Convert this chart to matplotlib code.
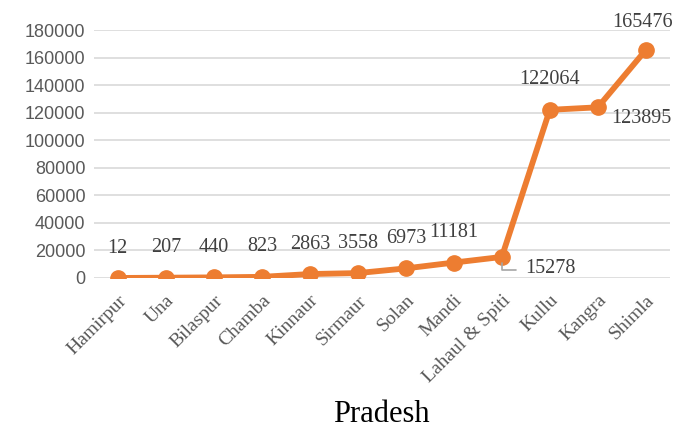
import matplotlib.pyplot as plt

# Data
districts = ["Hamirpur", "Una", "Bilaspur", "Chamba", "Kinnaur", "Sirmaur", "Solan",
             "Mandi", "Lahaul & Spiti", "Kullu", "Kangra", "Shimla"]
values = [12, 207, 440, 823, 2863, 3558, 6973, 11181, 15278, 122064, 123895, 165476]
y_ticks = list(range(0, 180001, 20000))

orange = "#ED7D31"
grey_txt = "#595959"

fig = plt.figure(figsize=(6.8, 4.32), dpi=100)
ax = fig.add_axes([0.138, 0.3565, 0.847, 0.574])

x = list(range(len(districts)))
ax.plot(x, values, color=orange, linewidth=4.2, marker="o", markersize=11,
        solid_capstyle="round", zorder=3)

ax.set_xlim(-0.5, len(districts) - 0.5)
ax.set_ylim(0, 180000)
ax.set_yticks(y_ticks)
ax.set_yticklabels([str(v) for v in y_ticks], family="Liberation Sans",
                   fontsize=13, color=grey_txt)
ax.set_xticks(x)
ax.set_xticklabels(districts, rotation=45, ha="right", rotation_mode="anchor",
                   family="Liberation Serif", fontsize=14, color=grey_txt)
ax.tick_params(axis="both", length=0, pad=6)
ax.tick_params(axis="x", pad=10)
ax.grid(axis="y", color="#D9D9D9", linewidth=1.2)
ax.set_axisbelow(True)
for s in ax.spines.values():
    s.set_visible(False)

ax.set_xlabel("Pradesh", family="Liberation Serif", fontsize=22, color="black",
              labelpad=10)

# Data labels
lbl = dict(textcoords="offset points", ha="center", va="center",
           family="Liberation Serif", fontsize=14.5, color="#404040")
for i, v in enumerate(values):
    name = districts[i]
    if name == "Lahaul & Spiti":
        ax.annotate(str(v), (i, v), xytext=(35, -8), **lbl)
        # leader line
        ax.annotate("", (i, v), xytext=(10, -9.5), textcoords="offset points",
                    arrowprops=dict(arrowstyle="-", color="#A6A6A6", lw=1.2,
                                    shrinkA=0, shrinkB=4.5,
                                    connectionstyle="angle,angleA=0,angleB=90,rad=0"))
    elif name == "Kangra":
        ax.annotate(str(v), (i, v), xytext=(31, -8), **lbl)
    elif name == "Shimla":
        ax.annotate(str(v), (i, v), xytext=(-2, 20), **lbl)
    else:
        ax.annotate(str(v), (i, v), xytext=(0, 21.5), **lbl)

fig.savefig("out.png", dpi=100)
